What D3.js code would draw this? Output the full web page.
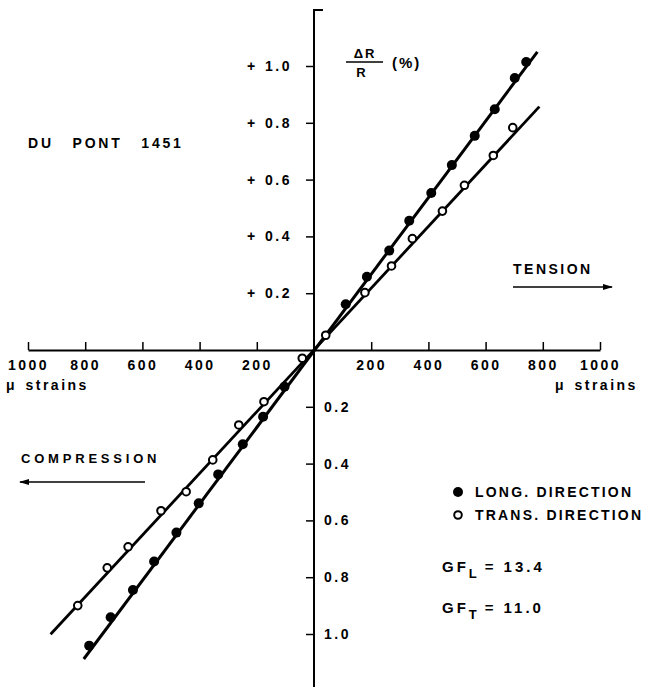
<!DOCTYPE html>
<html>
    <head>
        <meta charset="utf-8">
        <title>Du Pont 1451 strain gauge</title>
        <style>
body {
    margin: 0;
    background-color: white;
}

svg {
    display: block;
    background-color: white;
}

text {
    font-family: "Liberation Sans", Arial, sans-serif;
    font-weight: bold;
    fill: black;
}

.axis path, .axis line {
    stroke: black;
}
</style>
        <script src="https://cdn.jsdelivr.net/npm/d3@7"></script>
    </head>
    <body>
        <script>
// values
var strainLong = [-786, -711, -633, -559, -481, -403, -335, -249, -178, -103,
                  111, 185, 263, 333, 410, 482, 562, 632, 702, 742];
var drLong = [-1.041, -0.941, -0.845, -0.745, -0.643, -0.540, -0.438, -0.332, -0.235, -0.129,
              0.161, 0.258, 0.350, 0.455, 0.553, 0.651, 0.754, 0.848, 0.958, 1.014];

var strainTrans = [-826, -723, -650, -535, -447, -354, -263, -175, -41,
                   41, 178, 271, 344, 449, 526, 627, 695];
var drTrans = [-0.900, -0.767, -0.693, -0.566, -0.499, -0.387, -0.264, -0.182, -0.029,
               0.052, 0.202, 0.296, 0.392, 0.489, 0.580, 0.685, 0.783];

// fitted straight lines (end points)
var fitLongStrain = [-805, 781];
var fitLongDr = [-1.088, 1.050];
var fitTransStrain = [-921, 788];
var fitTransDr = [-1.001, 0.857];

var xTicks = [-1000, -800, -600, -400, -200, 200, 400, 600, 800, 1000];
var yTicksPos = [0.2, 0.4, 0.6, 0.8, 1.0];
var yTicksNeg = [-0.2, -0.4, -0.6, -0.8, -1.0];

var legendLabels = ["LONG. DIRECTION", "TRANS. DIRECTION"];

var width = 649,
    height = 687;

var svg = d3.select('body')
    .append('svg')
    .attr('width', width)
    .attr('height', height);

var x = d3.scaleLinear().domain([-1000, 1000]).range([28, 600]);
var y = d3.scaleLinear().domain([-1, 1]).range([634, 66]);

// x axis with ticks pointing up
var xAxis = svg.append('g')
    .attr('class', 'axis')
    .attr('transform', 'translate(0,' + y(0) + ')')
    .call(d3.axisBottom(x)
        .tickValues(xTicks)
        .tickSizeInner(-8)
        .tickSizeOuter(0)
        .tickPadding(10)
        .tickFormat(function (d) { return Math.abs(d); }));
xAxis.select('.domain').attr('stroke-width', 2);

// y axis line, with the little cap at top
svg.append('path')
    .attr('d', 'M' + (x(0) + 9) + ',10H' + x(0) + 'V' + height)
    .attr('fill', 'none')
    .attr('stroke', 'black')
    .attr('stroke-width', 2);

var yPos = svg.append('g')
    .attr('class', 'axis')
    .attr('transform', 'translate(' + x(0) + ',0)')
    .call(d3.axisLeft(y)
        .tickValues(yTicksPos)
        .tickSizeInner(8)
        .tickSizeOuter(0)
        .tickPadding(14)
        .tickFormat(function (d) { return '+ ' + d.toFixed(1); }));
yPos.select('.domain').remove();
yPos.selectAll('text').style('word-spacing', '1px');

var yNeg = svg.append('g')
    .attr('class', 'axis')
    .attr('transform', 'translate(' + x(0) + ',0)')
    .call(d3.axisRight(y)
        .tickValues(yTicksNeg)
        .tickSizeInner(-8)
        .tickSizeOuter(0)
        .tickPadding(10)
        .tickFormat(function (d) { return Math.abs(d).toFixed(1); }));
yNeg.select('.domain').remove();

svg.selectAll('.axis .tick line').attr('stroke-width', 1.5);
svg.selectAll('.axis text')
    .style('font-size', '14px')
    .style('letter-spacing', '2.5px')
    .attr('font-family', null);

// fitted lines
var line = d3.line()
    .x(function (d) { return x(d[0]); })
    .y(function (d) { return y(d[1]); });

svg.append('path')
    .datum(d3.zip(fitLongStrain, fitLongDr))
    .attr('d', line)
    .attr('fill', 'none')
    .attr('stroke', 'black')
    .attr('stroke-width', 3);

svg.append('path')
    .datum(d3.zip(fitTransStrain, fitTransDr))
    .attr('d', line)
    .attr('fill', 'none')
    .attr('stroke', 'black')
    .attr('stroke-width', 2.8);

// points
svg.selectAll('circle.long')
    .data(d3.zip(strainLong, drLong))
    .enter().append('circle')
    .attr('class', 'long')
    .attr('cx', function (d) { return x(d[0]); })
    .attr('cy', function (d) { return y(d[1]); })
    .attr('r', 5)
    .attr('fill', 'black');

svg.selectAll('circle.trans')
    .data(d3.zip(strainTrans, drTrans))
    .enter().append('circle')
    .attr('class', 'trans')
    .attr('cx', function (d) { return x(d[0]); })
    .attr('cy', function (d) { return y(d[1]); })
    .attr('r', 3.8)
    .attr('fill', 'white')
    .attr('stroke', 'black')
    .attr('stroke-width', 2);

// labels
function label(tx, ty, str, size, spacing, anchor) {
    return svg.append('text')
        .attr('x', tx)
        .attr('y', ty)
        .attr('text-anchor', anchor || 'start')
        .style('font-size', size + 'px')
        .style('letter-spacing', spacing + 'px')
        .text(str);
}

label(28, 148, 'DU PONT 1451', 14, 2.8).style('word-spacing', '12px');

label(6, 390, 'μ strains', 14, 2.5).style('word-spacing', '2px');
label(555, 390, 'μ strains', 14, 2.5).style('word-spacing', '2px');

// ΔR / R (%)
label(365, 58, 'ΔR', 13, 2, 'middle');
svg.append('line')
    .attr('x1', 346).attr('x2', 383)
    .attr('y1', 62).attr('y2', 62)
    .attr('stroke', 'black')
    .attr('stroke-width', 1.5);
label(361, 77, 'R', 13, 0, 'middle');
label(392, 68, '(%)', 15, 2);

label(513, 274, 'TENSION', 14, 2.5);
label(21, 463, 'COMPRESSION', 13, 3.8);

// arrows
svg.append('defs').append('marker')
    .attr('id', 'head')
    .attr('viewBox', '0 0 10 6')
    .attr('refX', 9).attr('refY', 3)
    .attr('markerWidth', 10).attr('markerHeight', 6)
    .attr('markerUnits', 'userSpaceOnUse')
    .attr('orient', 'auto')
    .append('path')
    .attr('d', 'M0,0L10,3L0,6Z')
    .attr('fill', 'black');

svg.append('line')
    .attr('x1', 513).attr('x2', 612)
    .attr('y1', 287).attr('y2', 287)
    .attr('stroke', 'black').attr('stroke-width', 1.5)
    .attr('marker-end', 'url(#head)');

svg.append('line')
    .attr('x1', 145).attr('x2', 20)
    .attr('y1', 482).attr('y2', 482)
    .attr('stroke', 'black').attr('stroke-width', 1.5)
    .attr('marker-end', 'url(#head)');

// legend
var legend = svg.selectAll('g.legend')
    .data(legendLabels)
    .enter().append('g')
    .attr('class', 'legend')
    .attr('transform', function (d, i) { return 'translate(458,' + (492 + i * 23) + ')'; });

legend.append('circle')
    .attr('r', function (d, i) { return i === 0 ? 5 : 3.8; })
    .attr('fill', function (d, i) { return i === 0 ? 'black' : 'white'; })
    .attr('stroke', 'black')
    .attr('stroke-width', function (d, i) { return i === 0 ? 0 : 2; });

legend.append('text')
    .attr('x', 17)
    .attr('y', 5)
    .style('font-size', '14px')
    .style('letter-spacing', '2.2px')
    .text(function (d) { return d; });

// gauge factors
var gf = [['L', '13.4', 572], ['T', '11.0', 613]];
gf.forEach(function (g) {
    var t = svg.append('text')
        .attr('x', 442)
        .attr('y', g[2])
        .style('font-size', '15px')
        .style('letter-spacing', '3px');
    t.append('tspan').text('GF');
    t.append('tspan').attr('dy', 6).style('font-size', '13px').text(g[0]);
    t.append('tspan').attr('dy', -6).attr('dx', 5).text('=').style('letter-spacing', '0px');
    t.append('tspan').attr('dx', 10).text(g[1]);
});

        </script>
    </body>
</html>
